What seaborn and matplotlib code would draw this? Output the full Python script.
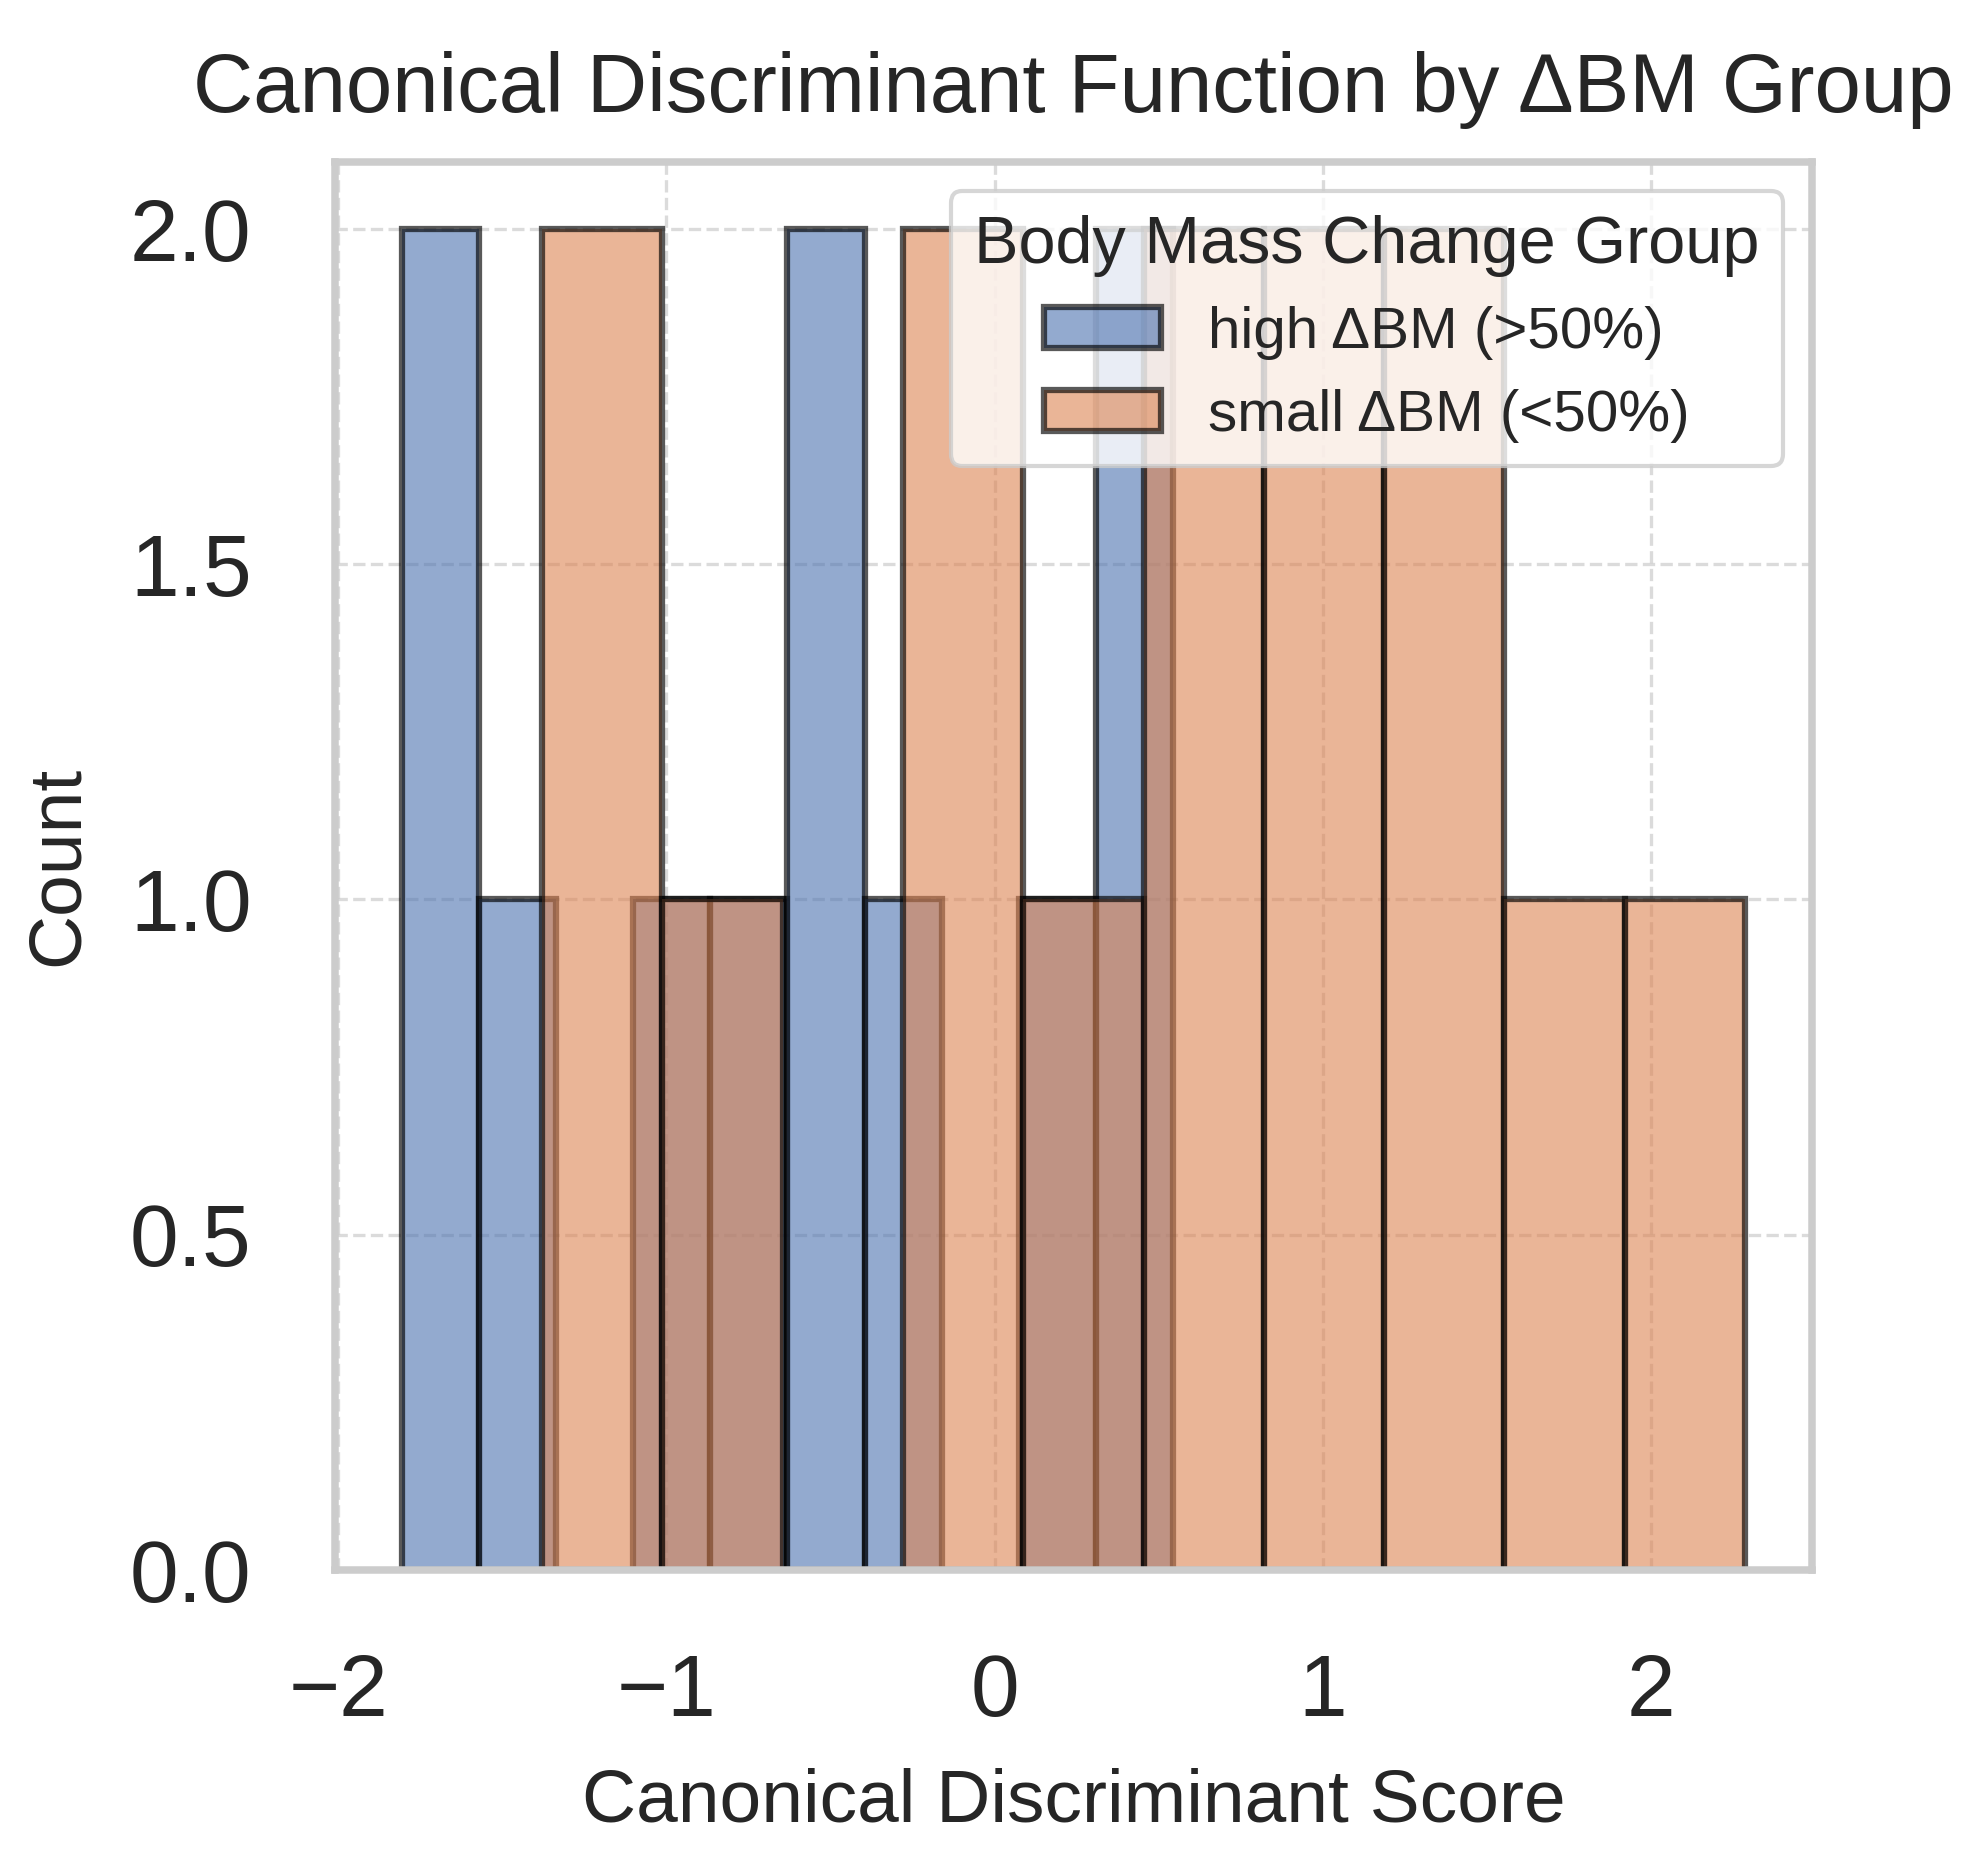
import matplotlib
matplotlib.use("Agg")
import matplotlib.pyplot as plt
import seaborn as sns
import pandas as pd

# canonical discriminant scores (10 bins per group)
high_scores = [-1.805, -1.69, -1.45, -0.98, -0.75, -0.55, -0.47, -0.28, 0.19, 0.42, 0.543]
small_scores = [-1.378, -1.20, -0.83, -0.18, -0.02, 0.27, 0.58, 0.70, 0.95, 1.08,
                1.30, 1.45, 1.74, 2.286]
group_labels = ["high ΔBM (>50%)", "small ΔBM (<50%)"]
group_colors = ["#4C72B0", "#DD8452"]

sns.set_theme(style="whitegrid")
plt.rcParams["font.family"] = ["Liberation Sans", "DejaVu Sans"]

df = pd.DataFrame({
    "score": high_scores + small_scores,
    "group": [group_labels[0]] * len(high_scores) + [group_labels[1]] * len(small_scores),
})

fig, ax = plt.subplots(figsize=(6.567, 6.237), dpi=300)
fig.subplots_adjust(left=0.1700, right=0.9198, top=0.9134, bottom=0.1609)

# blue first, orange drawn on top
for label, color in zip(group_labels, group_colors):
    sub = df[df["group"] == label]
    sns.histplot(data=sub, x="score", bins=10, color=color, alpha=0.6,
                 edgecolor=(0, 0, 0, 0.65), linewidth=1.5, label=label, ax=ax)

ax.set_title("Canonical Discriminant Function by ΔBM Group", fontsize=20, pad=12)
ax.set_xlabel("Canonical Discriminant Score", fontsize=18, labelpad=8)
ax.set_ylabel("Count", fontsize=18, labelpad=9)
ax.tick_params(axis="both", labelsize=21, pad=14)
ax.set_yticks([0.0, 0.5, 1.0, 1.5, 2.0])
ax.set_yticklabels(["0.0", "0.5", "1.0", "1.5", "2.0"])

ax.grid(True, linestyle="--", linewidth=0.8, alpha=0.7)
for spine in ax.spines.values():
    spine.set_color("#cccccc")
    spine.set_linewidth(1.8)

ax.legend(title="Body Mass Change Group", fontsize=14, title_fontsize=16, loc="upper right")

fig.savefig("out.png", dpi=300)
